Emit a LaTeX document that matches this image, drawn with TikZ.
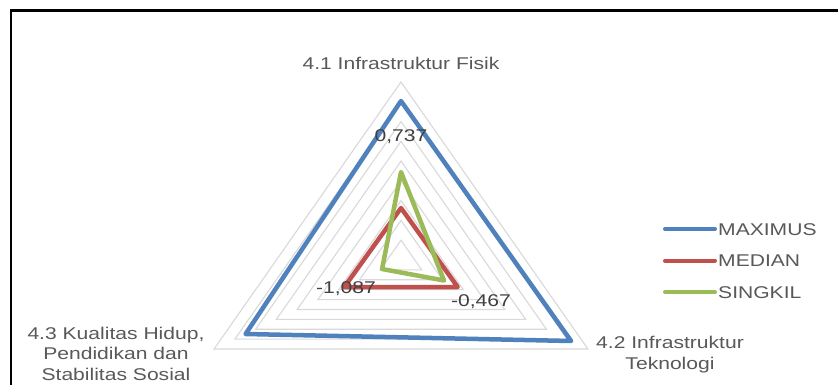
\documentclass[tikz,border=0pt]{standalone}
\usepackage{fontspec}
\setmainfont{Liberation Sans}[FakeStretch=1.24]
\definecolor{serblue}{HTML}{4F81BD}
\definecolor{serred}{HTML}{C0504D}
\definecolor{sergreen}{HTML}{9BBB59}
\definecolor{gridgray}{HTML}{D9D9D9}
\definecolor{labgray}{HTML}{595959}
\definecolor{numgray}{HTML}{404040}
\tikzset{
  gridline/.style={draw=gridgray, line width=1.1},
  series/.style={line width=4.5, line join=round},
  legline/.style={line width=4, line cap=round},
  axislabel/.style={inner sep=0pt, text=labgray, font=\fontsize{17}{20.5}\selectfont, align=center, anchor=base},
  numlabel/.style={inner sep=0pt, text=numgray, font=\fontsize{17}{20}\selectfont, anchor=base},
  legtext/.style={inner sep=0pt, text=labgray, font=\fontsize{17}{20}\selectfont, anchor=base west},
}
\begin{document}
\begin{tikzpicture}[x=1pt, y=-1pt]
\useasboundingbox (0,0) rectangle (838,385);
\fill[white] (0,0) rectangle (838,385);
% frame
\coordinate (fbl) at (11,386);
\coordinate (ftl) at (11,10.5);
\coordinate (ftr) at (839,10.5);
\draw[line width=2.5, line join=miter] (fbl) -- (ftl) -- (ftr);
% radar
\begin{scope}[shift={(401,260)}, xscale=1.2125]
  \foreach \k in {1,...,9}
    \draw[gridline] (-90:{\k*19.78}) -- (30:{\k*19.78}) -- (150:{\k*19.78}) -- cycle;
  \coordinate (bT) at (-90:159);
  \coordinate (bR) at (30:162);
  \coordinate (bL) at (150:148);
  \coordinate (rT) at (-90:52);
  \coordinate (rR) at (30:54);
  \coordinate (rL) at (150:54);
  \coordinate (gT) at (-90:88);
  \coordinate (gR) at (30:41);
  \coordinate (gL) at (150:18);
\end{scope}
\draw[series, serblue] (bT) -- (bR) -- (bL) -- cycle;
\draw[series, serred] (rT) -- (rR) -- (rL) -- cycle;
\draw[series, sergreen] (gT) -- (gR) -- (gL) -- cycle;
% axis labels
\node[axislabel] (ax1) at (401,70) {4.1 Infrastruktur Fisik};
\node[axislabel] (ax2) at (670,369) {4.2 Infrastruktur\\Teknologi};
\node[axislabel] (ax3) at (116,380) {4.3 Kualitas Hidup,\\Pendidikan dan\\Stabilitas Sosial};
% data labels
\node[numlabel] (n1) at (401,142) {0,737};
\node[numlabel] (n2) at (346,293) {-1,087};
\node[numlabel] (n3) at (481,306) {-0,467};
% legend
\coordinate (l1a) at (665,229); \coordinate (l1b) at (715,229);
\coordinate (l2a) at (665,260.5); \coordinate (l2b) at (715,260.5);
\coordinate (l3a) at (665,292); \coordinate (l3b) at (715,292);
\draw[legline, serblue] (l1a) -- (l1b);
\draw[legline, serred] (l2a) -- (l2b);
\draw[legline, sergreen] (l3a) -- (l3b);
\node[legtext] (t1) at (718,235) {MAXIMUS};
\node[legtext] (t2) at (718,266.5) {MEDIAN};
\node[legtext] (t3) at (718,298) {SINGKIL};
\end{tikzpicture}
\end{document}
